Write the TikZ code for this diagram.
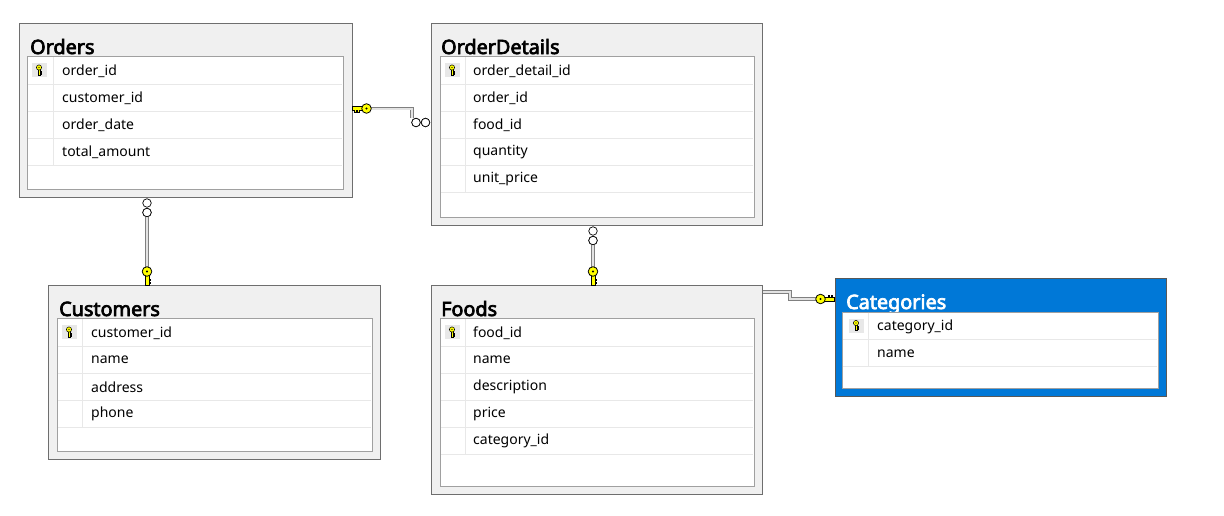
\documentclass[tikz,border=0pt]{standalone}
\usepackage{fontspec}
\setmainfont{Noto Sans}[AutoFakeBold=3.5]
\definecolor{boxgray}{HTML}{F0F0F0}
\definecolor{edgegray}{HTML}{6E6E6E}
\definecolor{innergray}{HTML}{A0A0A0}
\definecolor{rowgray}{HTML}{E8E8E8}
\definecolor{selblue}{HTML}{0078D7}
\definecolor{keyyellow}{HTML}{FFFF00}
\begin{document}
\begin{tikzpicture}[x=1pt, y=-1pt,
	tblouter/.style={draw=edgegray, line width=1.2pt, fill=boxgray, anchor=north west, inner sep=0pt},
	tblinner/.style={draw=innergray, line width=1pt, fill=white, anchor=north west, inner sep=0pt},
	tbltitle/.style={anchor=base west, inner sep=0pt, font=\fontsize{19.8}{22}\selectfont\bfseries},
	rowtext/.style={anchor=west, inner sep=0pt, font=\fontsize{14}{16}\selectfont},
	rowline/.style={draw=rowgray, line width=0.8pt},
	relline/.style={draw=gray, double=gray!22, double distance=2pt, line width=0.8pt},
	zerocirc/.style={circle, draw=black, fill=white, line width=0.7pt, minimum size=8.5pt, inner sep=0pt},
	fkey/.pic={
		\filldraw[fill=keyyellow, draw=black, line width=0.8pt]
			(-2,3) -- (-2,14) -- (2,14) -- (2,12) -- (3.5,12) -- (3.5,10.5) -- (2,10.5) -- (2,9) -- (3.5,9) -- (3.5,7.5) -- (2,7.5) -- (2,3) -- cycle;
		\filldraw[fill=keyyellow, draw=black, line width=0.8pt] (0,0) circle (4.8);
		\fill (0,0) circle (1.2);
	},
	pkey/.pic={
		\fill[rowgray] (-7.5,-7) rectangle (7.5,7);
		\filldraw[fill=keyyellow, draw=black, line width=0.5pt]
			(-1,-1) -- (-1,5) -- (1,5) -- (1,4) -- (2,4) -- (2,3) -- (1,3) -- (1,2) -- (2,2) -- (2,1) -- (1,1) -- (1,-1) -- cycle;
		\filldraw[fill=keyyellow, draw=black, line width=0.5pt] (0,-2.5) circle (2.6);
		\fill (0,-2.5) circle (0.7);
	}]

	% Fix the canvas
	\useasboundingbox (0,0) rectangle (1224,515);

	% Draw the Orders table
	\node[tblouter, minimum width=333, minimum height=174] (orders) at (19,23) {};
	\node[tbltitle] (ordersT) at (30,54) {Orders};
	\node[tblinner, minimum width=316, minimum height=133] (ordersI) at (27,56) {};
	\foreach \y in {84,111,138,165} \draw[rowline] (28,\y) -- (342,\y);
	\draw[rowline] (53,57) -- (53,165);
	\pic at (39,70) {pkey};
	\node[rowtext] (o1) at (62,71) {order\_id};
	\node[rowtext] (o2) at (62,98) {customer\_id};
	\node[rowtext] (o3) at (62,125) {order\_date};
	\node[rowtext] (o4) at (62,152) {total\_amount};

	% Draw the OrderDetails table
	\node[tblouter, minimum width=331, minimum height=202] (details) at (431,23) {};
	\node[tbltitle] (detailsT) at (441,54) {OrderDetails};
	\node[tblinner, minimum width=314, minimum height=161] (detailsI) at (440,56) {};
	\foreach \y in {84,111,138,165,192} \draw[rowline] (441,\y) -- (753,\y);
	\draw[rowline] (465,57) -- (465,192);
	\pic at (452,70) {pkey};
	\node[rowtext] (d1) at (473,71) {order\_detail\_id};
	\node[rowtext] (d2) at (473,98) {order\_id};
	\node[rowtext] (d3) at (473,125) {food\_id};
	\node[rowtext] (d4) at (473,152) {quantity};
	\node[rowtext] (d5) at (473,179) {unit\_price};

	% Draw the Customers table
	\node[tblouter, minimum width=332, minimum height=174] (customers) at (48,285) {};
	\node[tbltitle] (customersT) at (59,316) {Customers};
	\node[tblinner, minimum width=315, minimum height=133] (customersI) at (57,318) {};
	\foreach \y in {346,373,400,427} \draw[rowline] (58,\y) -- (371,\y);
	\draw[rowline] (82,319) -- (82,427);
	\pic at (69,332) {pkey};
	\node[rowtext] (c1) at (91,333) {customer\_id};
	\node[rowtext] (c2) at (91,360) {name};
	\node[rowtext] (c3) at (91,387) {address};
	\node[rowtext] (c4) at (91,414) {phone};

	% Draw the Foods table
	\node[tblouter, minimum width=331, minimum height=209] (foods) at (431,285) {};
	\node[tbltitle] (foodsT) at (441,316) {Foods};
	\node[tblinner, minimum width=314, minimum height=168] (foodsI) at (440,318) {};
	\foreach \y in {346,373,400,427,454} \draw[rowline] (441,\y) -- (753,\y);
	\draw[rowline] (465,319) -- (465,454);
	\pic at (452,332) {pkey};
	\node[rowtext] (f1) at (473,333) {food\_id};
	\node[rowtext] (f2) at (473,360) {name};
	\node[rowtext] (f3) at (473,387) {description};
	\node[rowtext] (f4) at (473,414) {price};
	\node[rowtext] (f5) at (473,441) {category\_id};

	% Draw the Categories table (selected)
	\node[tblouter, fill=selblue, draw=edgegray!80!black, minimum width=331, minimum height=118] (categories) at (835,278) {};
	\node[tbltitle, text=white] (categoriesT) at (846,309) {Categories};
	\node[tblinner, minimum width=316, minimum height=76] (categoriesI) at (842,311.5) {};
	\foreach \y in {339,366} \draw[rowline] (843,\y) -- (1157,\y);
	\draw[rowline] (868,312.5) -- (868,366);
	\pic at (856,325.5) {pkey};
	\node[rowtext] (g1) at (877,326.5) {category\_id};
	\node[rowtext] (g2) at (877,353.5) {name};

	% Orders -> OrderDetails
	\coordinate (k1) at (366.5,108.5);
	\coordinate (b1) at (412,108.5);
	\node[zerocirc] (m1a) at (416,122.5) {};
	\node[zerocirc] (m1b) at (425.5,122.5) {};
	\draw[relline] (k1) -- (b1) -- (b1 |- m1a.north);
	\node[zerocirc] at (m1a) {};
	\node[zerocirc] at (m1b) {};
	\pic[rotate=-90] at (k1) {fkey};

	% Orders -> Customers
	\coordinate (k2) at (147,271.5);
	\node[zerocirc] (m2a) at (147,203) {};
	\node[zerocirc] (m2b) at (147,212.5) {};
	\draw[relline] (m2b) -- (k2);
	\node[zerocirc] at (m2b) {};
	\pic at (k2) {fkey};

	% OrderDetails -> Foods
	\coordinate (k3) at (593,271.5);
	\node[zerocirc] (m3a) at (593,231) {};
	\node[zerocirc] (m3b) at (593,240.5) {};
	\draw[relline] (m3b) -- (k3);
	\node[zerocirc] at (m3b) {};
	\pic at (k3) {fkey};

	% Foods -> Categories
	\coordinate (k4) at (820.5,299);
	\coordinate (b4) at (790,292);
	\draw[relline] (foods.east |- b4) -- (b4) -- (b4 |- k4) -- (k4);
	\pic[rotate=90] at (k4) {fkey};

\end{tikzpicture}
\end{document}
